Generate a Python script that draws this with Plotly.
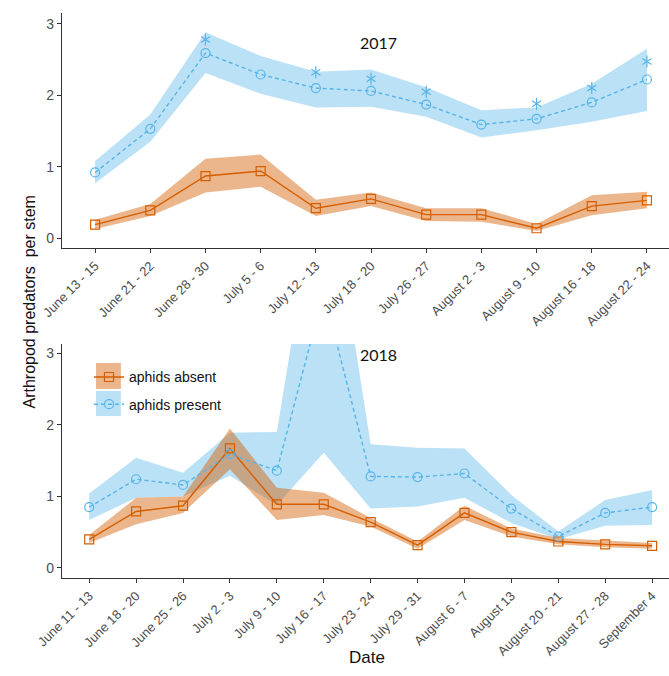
import plotly.graph_objects as go
from plotly.subplots import make_subplots

# ---- 2017 season ----
dates17 = ["June 13 - 15", "June 21 - 22", "June 28 - 30", "July 5 - 6", "July 12 - 13",
           "July 18 - 20", "July 26 - 27", "August 2 - 3", "August 9 - 10",
           "August 16 - 18", "August 22 - 24"]
absent17 = [0.19, 0.39, 0.87, 0.94, 0.42, 0.55, 0.33, 0.33, 0.14, 0.45, 0.53]
absent17_lo = [0.13, 0.31, 0.64, 0.72, 0.31, 0.45, 0.24, 0.23, 0.10, 0.32, 0.42]
absent17_hi = [0.26, 0.48, 1.11, 1.17, 0.54, 0.64, 0.42, 0.42, 0.20, 0.60, 0.65]
present17 = [0.92, 1.53, 2.59, 2.29, 2.10, 2.06, 1.87, 1.59, 1.67, 1.90, 2.22]
present17_lo = [0.77, 1.35, 2.31, 2.02, 1.83, 1.84, 1.70, 1.41, 1.51, 1.63, 1.78]
present17_hi = [1.08, 1.73, 2.88, 2.55, 2.33, 2.36, 2.11, 1.79, 1.83, 2.16, 2.65]
sig17_dates = ["June 28 - 30", "July 12 - 13", "July 18 - 20", "July 26 - 27",
               "August 9 - 10", "August 16 - 18", "August 22 - 24"]
sig17_y = [2.78, 2.32, 2.23, 2.05, 1.88, 2.10, 2.47]

# ---- 2018 season ----
dates18 = ["June 11 - 13", "June 18 - 20", "June 25 - 26", "July 2 - 3", "July 9 - 10",
           "July 16 - 17", "July 23 - 24", "July 29 - 31", "August 6 - 7", "August 13",
           "August 20 - 21", "August 27 - 28", "September 4"]
absent18 = [0.40, 0.79, 0.87, 1.67, 0.89, 0.89, 0.64, 0.32, 0.77, 0.50, 0.37, 0.33, 0.31]
absent18_lo = [0.35, 0.61, 0.77, 1.38, 0.67, 0.74, 0.58, 0.27, 0.67, 0.44, 0.33, 0.29, 0.27]
absent18_hi = [0.46, 0.98, 1.00, 1.95, 1.12, 1.05, 0.70, 0.37, 0.87, 0.55, 0.42, 0.38, 0.35]
present18 = [0.85, 1.24, 1.16, 1.59, 1.36, 3.85, 1.28, 1.27, 1.32, 0.83, 0.44, 0.77, 0.85]
present18_lo = [0.67, 0.98, 1.00, 1.29, 0.88, 1.61, 0.83, 0.86, 0.98, 0.63, 0.40, 0.59, 0.60]
present18_hi = [1.04, 1.54, 1.33, 1.89, 1.90, 5.90, 1.73, 1.68, 1.67, 1.02, 0.51, 0.95, 1.09]

y_ticks = [0, 1, 2, 3]

ORANGE = "#D55E00"
BLUE = "#56B4E9"
ORANGE_FILL = "rgba(213,94,0,0.45)"
BLUE_FILL = "rgba(86,180,233,0.40)"
AXIS_COL = "#333333"
TICK_COL = "#4D4D4D"
FONT = "Liberation Sans, Arial, sans-serif"

fig = make_subplots(rows=2, cols=1, vertical_spacing=0.1701)


def ribbon(x, lo, hi, color, row):
    fig.add_trace(go.Scatter(x=x, y=lo, mode="lines", line=dict(width=0),
                             showlegend=False, hoverinfo="skip"), row=row, col=1)
    fig.add_trace(go.Scatter(x=x, y=hi, mode="lines", line=dict(width=0),
                             fill="tonexty", fillcolor=color,
                             showlegend=False, hoverinfo="skip"), row=row, col=1)


def series(x, y, name, row, legend):
    if name == "aphids absent":
        line = dict(color=ORANGE, width=1.4)
        marker = dict(symbol="square-open", size=9, color=ORANGE, line=dict(width=1.2, color=ORANGE))
        group = "absent"
    else:
        line = dict(color=BLUE, width=1.4, dash="4px,3px")
        marker = dict(symbol="circle-open", size=9, color=BLUE, line=dict(width=1.2, color=BLUE))
        group = "present"
    fig.add_trace(go.Scatter(x=x, y=y, mode="lines+markers", name=name, line=line,
                             marker=marker, showlegend=legend, legendgroup=group),
                  row=row, col=1)


def stars(x, y, row):
    # six-armed asterisk built from two overlaid three-armed symbols
    for sym in ("y-up-open", "y-down-open"):
        fig.add_trace(go.Scatter(x=x, y=y, mode="markers", showlegend=False,
                                 hoverinfo="skip",
                                 marker=dict(symbol=sym, size=7.5, color=BLUE,
                                             line=dict(width=1.2, color=BLUE))),
                      row=row, col=1)


# ribbons first, lines on top
ribbon(dates17, present17_lo, present17_hi, BLUE_FILL, 1)
ribbon(dates17, absent17_lo, absent17_hi, ORANGE_FILL, 1)
ribbon(dates18, present18_lo, present18_hi, BLUE_FILL, 2)
ribbon(dates18, absent18_lo, absent18_hi, ORANGE_FILL, 2)

series(dates17, absent17, "aphids absent", 1, False)
series(dates17, present17, "aphids present", 1, False)
series(dates18, absent18, "aphids absent", 2, True)
series(dates18, present18, "aphids present", 2, True)
stars(sig17_dates, sig17_y, 1)

axis_common = dict(showline=True, linecolor=AXIS_COL, linewidth=1.2, showgrid=False,
                   zeroline=False, ticks="outside", ticklen=4, tickwidth=1.1,
                   tickcolor=AXIS_COL, mirror=False)

fig.update_xaxes(**axis_common, tickangle=-45, tickfont=dict(family=FONT, size=13, color=TICK_COL))
fig.update_yaxes(**axis_common, tickvals=y_ticks, tickfont=dict(family=FONT, size=14, color=TICK_COL))

fig.update_xaxes(type="category", range=[-0.6, 10.4], row=1, col=1)
fig.update_xaxes(type="category", range=[-0.58, 12.36], row=2, col=1)
fig.update_yaxes(range=[-0.137, 3.15], row=1, col=1)
fig.update_yaxes(range=[-0.14, 3.13], row=2, col=1)
fig.update_layout(yaxis=dict(domain=[0.584, 1.0]), yaxis2=dict(domain=[0.0, 0.4142]))

# shaded keys behind the legend symbols
for y0, y1, col in [(0.808, 0.919, ORANGE_FILL), (0.692, 0.799, BLUE_FILL)]:
    fig.add_shape(type="rect", xref="paper", yref="y2 domain", x0=0.056, x1=0.097,
                  y0=y0, y1=y1, fillcolor=col, line=dict(width=0), layer="below")

annotations = [
    dict(text="2017", x=0.5206, y=0.968, xref="paper", yref="paper", showarrow=False,
         font=dict(family="Lato, sans-serif", size=16, color="#111111")),
    dict(text="2018", x=0.5206, y=0.3947, xref="paper", yref="paper", showarrow=False,
         font=dict(family="Lato, sans-serif", size=16, color="#111111")),
    dict(text="Arthropod predators\u00a0 per stem", x=-0.0708, y=0.4885, xref="paper",
         yref="paper", showarrow=False, textangle=-90,
         font=dict(family=FONT, size=16, color="#111111")),
    dict(text="Date", x=0.5025, y=-0.161, xref="paper", yref="paper", showarrow=False,
         font=dict(family=FONT, size=17, color="#111111")),
]

fig.update_layout(
    width=669, height=676,
    margin=dict(l=62, r=0, t=13, b=98),
    plot_bgcolor="white", paper_bgcolor="white",
    annotations=annotations,
    legend=dict(x=0.0445, y=0.3834, xanchor="left", yanchor="top",
                bgcolor="rgba(0,0,0,0)", tracegroupgap=6,
                font=dict(family=FONT, size=14, color="#111111")),
    font=dict(family=FONT),
)

fig.write_html("out.html")
